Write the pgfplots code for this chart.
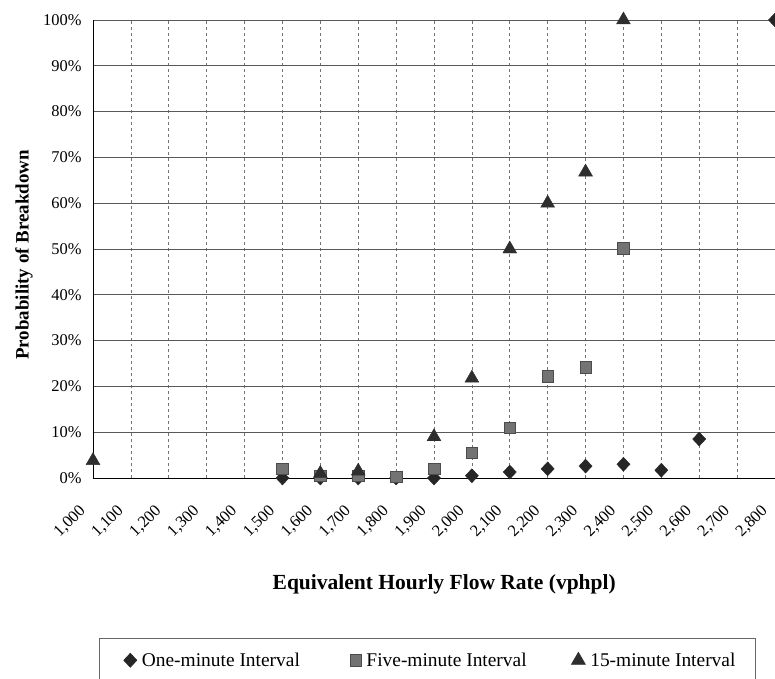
\documentclass[border=0pt]{standalone}
\usepackage{pgfplots}
\pgfplotsset{compat=1.18}
\usepackage{fontspec}
\setmainfont{Liberation Serif}
\pgfplotsset{
  legimg/.style={legend image code/.code={\draw[##1] plot coordinates {(0bp,0bp)};}},
  legimgfirst/.style={legend image code/.code={\path[draw=none,fill=none] (-22bp,0bp) rectangle (0bp,0.1bp); \draw[##1] plot coordinates {(0bp,0bp)};}},
}
\begin{document}
\begin{tikzpicture}
\begin{axis}[
  scale only axis,
  width=682bp, height=458bp,
  xmin=1000, xmax=2800, ymin=0, ymax=100,
  axis x line=bottom, axis y line=left,
  axis line style={-, black, line width=0.9bp},
  major tick length=0pt,
  xtick={1000,1100,...,2800},
  xticklabels={{1,000},{1,100},{1,200},{1,300},{1,400},{1,500},{1,600},{1,700},{1,800},{1,900},{2,000},{2,100},{2,200},{2,300},{2,400},{2,500},{2,600},{2,700},{2,800}},
  ytick={0,10,...,100},
  yticklabels={0\%,10\%,20\%,30\%,40\%,50\%,60\%,70\%,80\%,90\%,100\%},
  /pgf/number format/assume math mode=true,
  grid=major,
  x grid style={black!55, dashed, line width=0.6bp},
  y grid style={black!65, line width=0.7bp},
  yticklabel style={font=\fontsize{16.5}{19}\selectfont, anchor=east, xshift=-8bp},
  xticklabel style={font=\fontsize{16.5}{19}\selectfont, xshift=-7.5bp, yshift=-28bp, rotate=45, anchor=east},
  xlabel={Equivalent Hourly Flow Rate (vphpl)},
  ylabel={Probability of Breakdown},
  xlabel style={font=\fontsize{21.6}{25}\bfseries, at={(axis description cs:0.515,-0.232)}, anchor=center},
  ylabel style={font=\fontsize{19}{23}\bfseries, at={(axis description cs:-0.101,0.487)}, anchor=center},
  legend columns=3,
  legend style={at={(axis description cs:0.0088,-0.3493)}, anchor=north west,
    draw=black!60, line width=0.6bp, font=\fontsize{19.5}{23}\selectfont,
    inner xsep=9bp, inner ysep=14bp,
    nodes={inner sep=0pt},
    /tikz/every odd column/.append style={column sep=5bp},
    /tikz/every even column/.append style={column sep=48bp}},
  clip=false,
]
\addplot[only marks, mark=diamond*, mark size=7bp, draw=black!85, fill=black!85,
  mark options={xscale=1.25}, legimgfirst]
  coordinates {(1500,0) (1600,0) (1700,0) (1800,0) (1900,0) (2000,0.5) (2100,1.3) (2200,2) (2300,2.6) (2400,3) (2500,1.7) (2600,8.5) (2800,100)};
\addlegendentry{\makebox[160bp][l]{One-minute Interval}}
\addplot[only marks, mark=square*, mark size=5.8bp, draw=black!70, fill=black!55, legimg]
  coordinates {(1500,2) (1600,0.5) (1700,0.5) (1800,0.3) (1900,2) (2000,5.5) (2100,11) (2200,22.2) (2300,24.2) (2400,50.2)};
\addlegendentry{\makebox[157bp][l]{Five-minute Interval}}
\addplot[only marks, mark=triangle*, mark size=8bp, draw=black!82, fill=black!82, legimg]
  coordinates {(1000,3.8) (1600,1) (1700,1.5) (1900,9) (2000,21.8) (2100,50) (2200,60) (2300,66.8) (2400,100)};
\addlegendentry{\makebox[156bp][l]{15-minute Interval}}
\end{axis}
\pgfresetboundingbox
\useasboundingbox (-93bp,-201bp) rectangle (682bp,478bp);
\end{tikzpicture}
\end{document}
